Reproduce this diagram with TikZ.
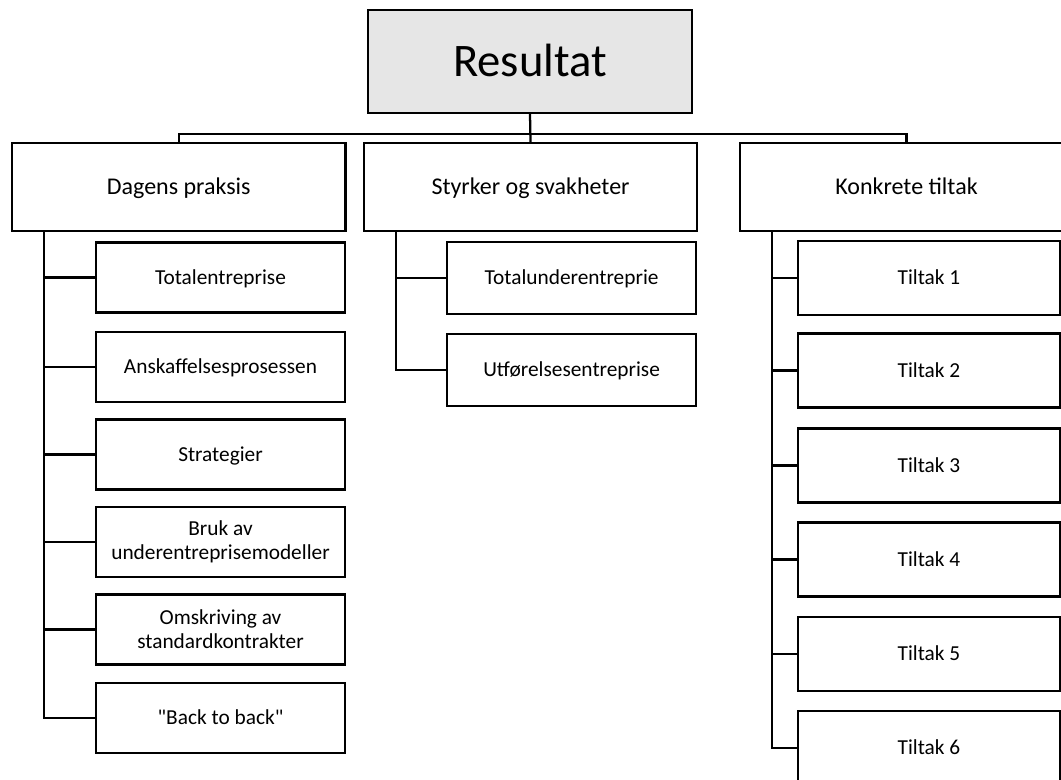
\documentclass[tikz,border=0pt]{standalone}
\usepackage{fontspec}
\setmainfont{Carlito}[Ligatures=TeXOff]
\usetikzlibrary{calc}
\definecolor{rootfill}{RGB}{230,230,230}
\begin{document}
\begin{tikzpicture}[x=0.75pt,y=-0.75pt,
  box/.style={draw=black,line width=1.7pt,fill=white,rectangle,inner sep=0pt,
    align=center,font=\fontsize{16}{17.8}\selectfont},
  oneline/.style={text height=#1,text depth=0pt},
  oneline/.default=10.3pt,
  rootbox/.style={box,oneline=22.5pt,fill=rootfill,minimum width=243pt,minimum height=77pt,
    font=\fontsize{35}{40}\selectfont},
  headbox/.style={box,oneline=11.6pt,minimum width=250pt,minimum height=66pt,
    font=\fontsize{18}{21}\selectfont},
  leafbox/.style={box,minimum width=187pt,minimum height=52.5pt},
  tiltbox/.style={box,oneline,minimum width=196pt,minimum height=55.5pt},
  link/.style={draw=black,line width=1.7pt}]
\useasboundingbox (0,0) rectangle (1061,780);
\clip (0,0) rectangle (1061,780);

% top level
\node[rootbox] (res) at (530,61.5) {Resultat};

% second level
\node[headbox] (dag) at (178.75,187) {Dagens praksis};
\node[headbox] (sty) at (530.5,187) {Styrker og svakheter};
\node[headbox] (kon) at (906.5,187) {Konkrete tiltak};

\draw[link] (res.south) -- ++(0,20) -| (dag.north);
\draw[link] (res.south) -- (sty.north);
\draw[link] (res.south) -- ++(0,20) -| (kon.north);

% children of "Dagens praksis"
\node[leafbox,oneline] (d1) at (220.5,277.5) {Totalentreprise};
\node[leafbox,oneline] (d2) at (220.5,367) {Anskaffelsesprosessen};
\node[leafbox,oneline] (d3) at (220.5,454.5) {Strategier};
\node[leafbox] (d4) at (220.5,542) {Bruk av\\underentreprisemodeller};
\node[leafbox] (d5) at (220.5,629.5) {Omskriving av\\standardkontrakter};
\node[leafbox,oneline] (d6) at (220.5,718) {"Back to back"};
\coordinate (dt) at ($(dag.south west)+(33,0)$);
\foreach \c in {d1,d2,d3,d4,d5,d6}
  \draw[link] (dt) |- (\c.west);

% children of "Styrker og svakheter"
\node[leafbox,oneline,minimum height=54pt] (s1) at (571.6,278) {Totalunderentreprie};
\node[leafbox,oneline,minimum height=54pt] (s2) at (571.6,370) {Utførelsesentreprise};
\coordinate (st) at ($(sty.south west)+(33.5,0)$);
\foreach \c in {s1,s2}
  \draw[link] (st) |- (\c.west);

% children of "Konkrete tiltak"
\node[tiltbox] (k1) at (929,278) {Tiltak 1};
\node[tiltbox] (k2) at (929,370.5) {Tiltak 2};
\node[tiltbox] (k3) at (929,465.5) {Tiltak 3};
\node[tiltbox] (k4) at (929,559.5) {Tiltak 4};
\node[tiltbox] (k5) at (929,654) {Tiltak 5};
\node[tiltbox] (k6) at (929,748) {Tiltak 6};
\coordinate (kt) at ($(kon.south west)+(33,0)$);
\foreach \c in {k1,k2,k3,k4,k5,k6}
  \draw[link] (kt) |- (\c.west);
\end{tikzpicture}
\end{document}
